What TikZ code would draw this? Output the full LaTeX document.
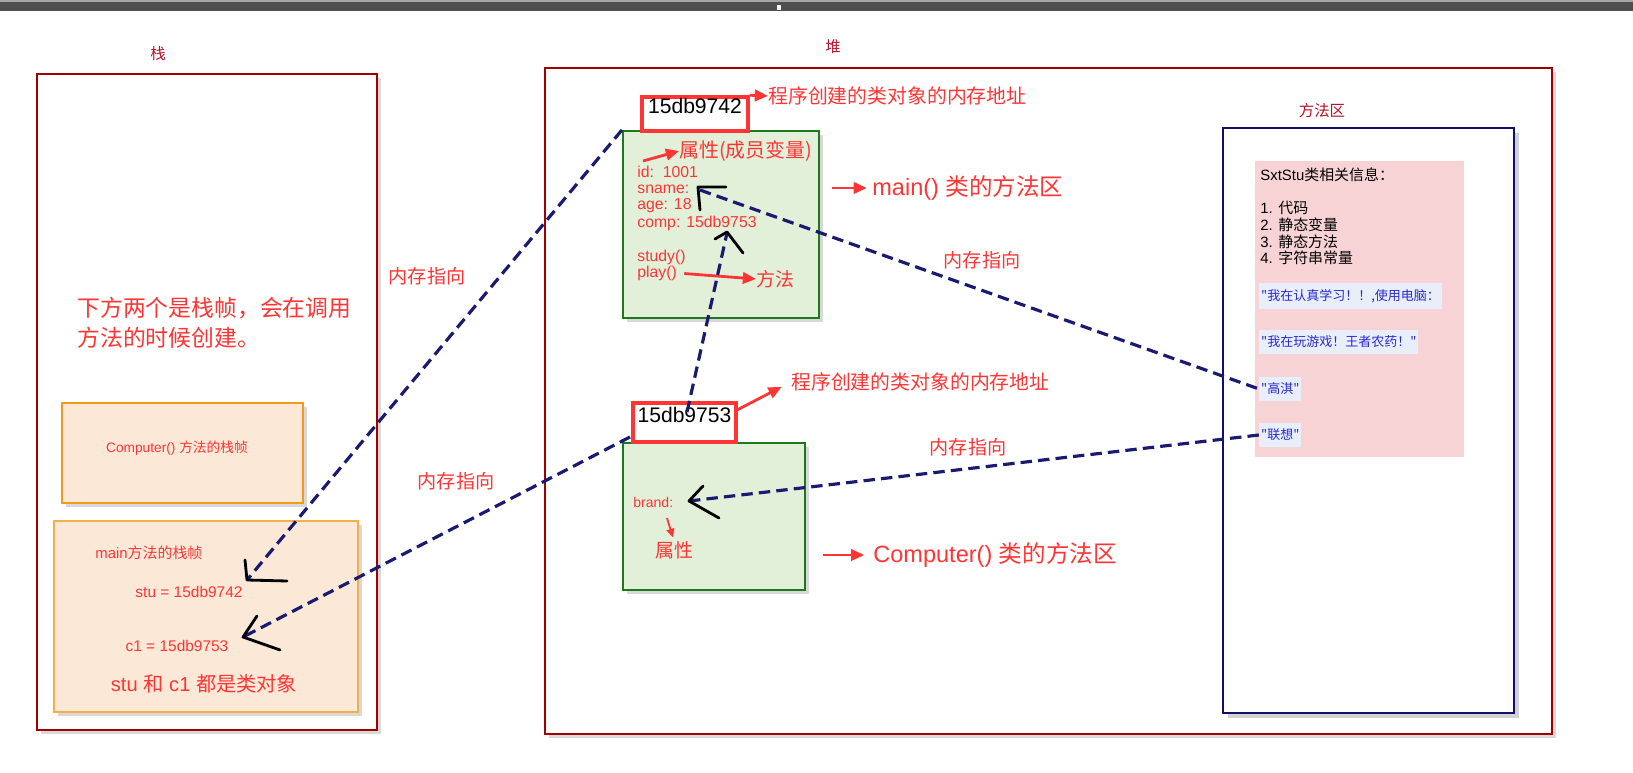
\documentclass[tikz,border=0pt]{standalone}
\usepackage{fontspec}
\setmainfont{Liberation Sans}
\newfontfamily\cjk{Noto Sans CJK SC}
\usetikzlibrary{arrows.meta,positioning,fit,shadows}

\definecolor{txtred}{HTML}{FF3535}
\definecolor{titlered}{HTML}{B5122B}
\definecolor{framered}{HTML}{A00000}
\definecolor{navyline}{HTML}{1A1A70}
\definecolor{methodnavy}{HTML}{10106A}
\definecolor{objfill}{HTML}{E2F0D9}
\definecolor{objgreen}{HTML}{1C7A1C}
\definecolor{framefill}{HTML}{FBE8D7}
\definecolor{frameorange}{HTML}{F29A1E}
\definecolor{pinkbg}{HTML}{F7D3D6}
\definecolor{strbg}{HTML}{E8EEFA}
\definecolor{strblue}{HTML}{2A2AD4}
\definecolor{bargray}{HTML}{4F4F4F}

\tikzset{
  softshadow/.style={drop shadow={shadow xshift=2pt, shadow yshift=-2pt, opacity=0.3}},
  areabox/.style={draw=framered, fill=white, line width=1.2pt, inner sep=0pt, softshadow},
  areatitle/.style={inner sep=0pt, text=titlered, font=\cjk\fontsize{8.8}{10}\selectfont},
  framebox/.style={draw=frameorange, fill=framefill, line width=1.2pt, inner sep=0pt, softshadow},
  objbox/.style={draw=objgreen, fill=objfill, line width=1.2pt, inner sep=0pt, softshadow},
  addrbox/.style={draw=txtred, fill=white, line width=2pt, inner sep=0pt, font=\fontsize{12}{14}\selectfont},
  methodbox/.style={draw=methodnavy, fill=white, line width=1.3pt, inner sep=0pt,
    drop shadow={shadow xshift=3pt, shadow yshift=-3pt, opacity=0.35}},
  infobg/.style={fill=pinkbg, inner sep=0pt},
  strbox/.style={fill=strbg, text=strblue, anchor=west, inner xsep=1pt, inner ysep=3.5pt, font=\cjk\fontsize{7.4}{9}\selectfont},
  smalltxt/.style={inner sep=0pt, text=txtred, font=\fontsize{8.8}{10}\selectfont},
  fieldtxt/.style={inner sep=0pt, anchor=west, text=txtred, font=\fontsize{9}{10}\selectfont},
  notetxt/.style={inner sep=0pt, text=txtred, font=\cjk\fontsize{11.3}{13}\selectfont},
  bignote/.style={inner sep=0pt, text=txtred, anchor=west, font=\fontsize{13.4}{15}\selectfont},
  reflbl/.style={inner sep=0pt, text=txtred, font=\cjk\fontsize{10.9}{13}\selectfont},
  infotxt/.style={inner sep=0pt, anchor=west, font=\fontsize{8.5}{10}\selectfont},
  redarrow/.style={draw=txtred, line width=1.6pt, -{Triangle[length=7.5pt,width=6.5pt]}},
  refline/.style={draw=navyline, line width=1.8pt, dash pattern=on 6.5pt off 3.5pt},
  handmark/.style={draw=black, line width=1.6pt, line cap=round, line join=round}
}

\begin{document}
\begin{tikzpicture}[x=0.02cm,y=-0.02cm]
\useasboundingbox (0,0) rectangle (1633,773);

% window bar
\fill[bargray] (0,0) rectangle (1633,11);
\fill[gray!70] (0,0) rectangle (1633,2);
\fill[white] (777,5) rectangle (781,10);

% stack
\node[areatitle] (stacktitle) at (158,54) {栈};
\node[areabox, fit={(37,74) (377,730)}] (stack) {};
\node[notetxt, anchor=west, align=left, font=\cjk\fontsize{13}{17}\selectfont] (stacknote) at (77,323)
  {下方两个是栈帧，会在调用\\方法的时候创建。};

% Computer() frame
\node[framebox, fit={(62,403) (303,503)}] (compframe) {};
\node[smalltxt, font=\fontsize{7.8}{9}\selectfont] (compframetxt) at (177,448) {Computer() {\cjk 方法的栈帧}};

% main frame
\node[framebox, draw=frameorange!80, line width=1pt, drop shadow={opacity=0}, fit={(54,521) (358,712)}] (mainframe) {};
\node[smalltxt, anchor=west, font=\fontsize{8.5}{10}\selectfont] (mainframetxt) at (95,553) {main{\cjk 方法的栈帧}};
\node[smalltxt] (stuvar) at (189,592) {stu = 15db9742};
\node[smalltxt] (c1var) at (177,646) {c1 = 15db9753};
\node[smalltxt, font=\fontsize{11.5}{13}\selectfont] (objnote) at (204,684) {stu {\cjk 和} c1 {\cjk 都是类对象}};

% heap
\node[areatitle] (heaptitle) at (833,47) {堆};
\node[areabox, fit={(545,68) (1552,734)}] (heap) {};

% stu object
\node[objbox, fit={(623,131) (819,318)}] (stuobj) {};
\node[addrbox, fit={(642,97) (748,131)}] (stuaddr) {15db9742};
\node[notetxt, anchor=west] (stuaddrnote) at (768,96) {程序创建的类对象的内存地址};
\draw[redarrow] (stuaddr.north east) -- (stuaddrnote.west);

\node[notetxt, anchor=west] (attrnote) at (679,151) {属性(成员变量)};
\coordinate (attrtail) at (643,161);
\draw[redarrow] (attrtail) -- (attrnote.west);

\node[fieldtxt] (fid) at (637,172) {id:\ \ 1001};
\node[fieldtxt] (fsname) at (637,189) {sname:};
\node[fieldtxt] (fage) at (637,206) {age: 18};
\node[fieldtxt] (fcomp) at (637,223) {comp: 15db9753};
\node[fieldtxt] (mstudy) at (637,257) {study()};
\node[fieldtxt] (mplay) at (637,273) {play()};

\node[notetxt, anchor=west, font=\cjk\fontsize{10.8}{13}\selectfont] (methodnote) at (756,279) {方法};
\draw[redarrow, shorten <=4pt] (mplay.east) -- (methodnote.west);

\node[bignote] (stuareanote) at (872,188) {main() {\cjk 类的方法区}};
\draw[redarrow, shorten <=7pt, shorten >=3pt] (stuobj.east |- stuareanote.west) -- (stuareanote.west);

% computer object
\node[objbox, fit={(623,443) (805,590)}] (compobj) {};
\node[addrbox, fit={(633,403) (736,442)}] (c1addr) {15db9753};
\node[notetxt, anchor=west] (c1addrnote) at (791,382) {程序创建的类对象的内存地址};
\coordinate (c1addrtail) at (737,410);
\draw[redarrow, shorten >=6pt] (c1addrtail) -- (c1addrnote.west);

\node[fieldtxt, font=\fontsize{8}{10}\selectfont] (fbrand) at (633,502) {brand:};
\node[notetxt, font=\cjk\fontsize{10.8}{13}\selectfont] (brandattr) at (674,550) {属性};
\coordinate (brandtail) at (667,518);
\draw[redarrow, line width=1pt, -{Triangle[length=5pt,width=4.5pt]}, shorten >=2pt] (brandtail) -- (brandattr.north);

\node[bignote] (compareanote) at (873,555) {Computer() {\cjk 类的方法区}};
\coordinate (compareatail) at (823,555);
\draw[redarrow, shorten >=5pt] (compareatail) -- (compareanote.west);

% method area
\node[areatitle] (methodtitle) at (1322,111) {方法区};
\node[methodbox, fit={(1223,128) (1514,713)}] (methodarea) {};
\node[infobg, fit={(1255,161) (1464,457)}] (classinfo) {};
\node[infotxt] (infohead) at (1260,175) {SxtStu{\cjk 类相关信息：}};
\node[infotxt] (info1) at (1260,208) {1. {\cjk 代码}};
\node[infotxt] (info2) at (1260,225) {2. {\cjk 静态变量}};
\node[infotxt] (info3) at (1260,242) {3. {\cjk 静态方法}};
\node[infotxt] (info4) at (1260,258) {4. {\cjk 字符串常量}};
\node[strbox] (str1) at (1259,296) {"我在认真学习！！,使用电脑：};
\node[strbox] (str2) at (1259,342) {"我在玩游戏！王者农药！"};
\node[strbox] (str3) at (1259,389) {"高淇"};
\node[strbox] (str4) at (1259,435) {"联想"};

% memory references
\coordinate (stuTip) at (247,580);
\coordinate (c1Tip) at (243,637);
\coordinate (snameTip) at (700,190);
\coordinate (compTip) at (727,233);
\coordinate (brandTip) at (689,501);
\coordinate (c1addrIn) at (687,412);
\coordinate (c1addrOut) at (630,437);

\draw[refline] (stuobj.north west) -- (stuTip);
\draw[refline] (c1addrOut) -- (c1Tip);
\draw[refline] (c1addrIn) -- (compTip);
\draw[refline] (snameTip) -- (str3.west);
\draw[refline] (brandTip) -- (str4.west);

\node[reflbl] (ref1lbl) at (427,276) {内存指向};
\node[reflbl] (ref2lbl) at (456,481) {内存指向};
\node[reflbl] (ref3lbl) at (982,260) {内存指向};
\node[reflbl] (ref4lbl) at (968,447) {内存指向};

% hand drawn marks
\draw[handmark] (245,560) -- (stuTip) -- (287,581);
\draw[handmark] (257,616) -- (c1Tip) -- (280,650);
\draw[handmark] (726,187) -- (698,187) -- (700,210);
\draw[handmark] (715,239) -- (727,232) -- (743,253);
\draw[handmark] (703,486) -- (brandTip) -- (719,518);

\end{tikzpicture}
\end{document}
